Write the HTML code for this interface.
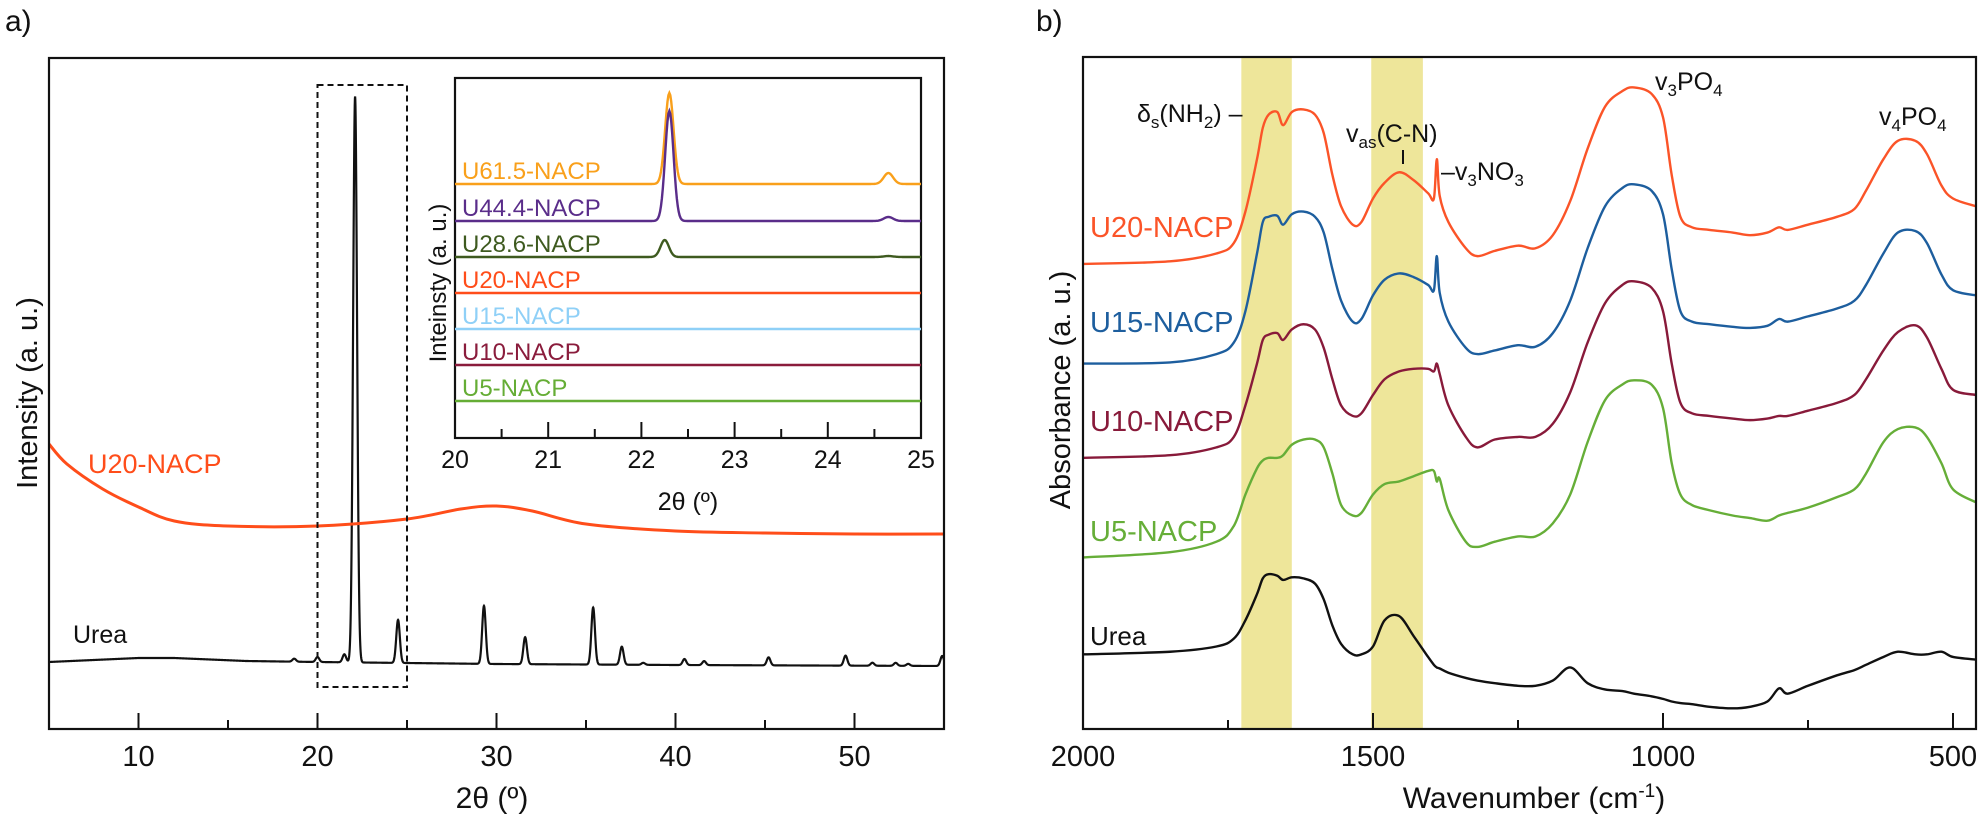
<!DOCTYPE html>
<html><head><meta charset="utf-8">
<style>
html,body{margin:0;padding:0;background:#fff;}
svg{display:block;font-family:"Liberation Sans",Arial,sans-serif;}
</style></head>
<body>
<svg id="fig" width="1981" height="821" viewBox="0 0 1981 821" xmlns="http://www.w3.org/2000/svg">
<g id="pa"></g>
<g id="pb"></g>
</svg>
<script>
// ---------- Panel a data ----------
const xrdUreaPeakPos = [18.7, 20.0, 21.5, 22.1, 24.5, 29.3, 31.6, 35.4, 37.0, 38.2, 40.5, 41.6, 45.2, 49.5, 51.0, 52.3, 53.0, 54.9];
const xrdUreaPeakHeight = [3, 5, 8, 566, 43, 58, 27, 57, 18, 2, 6, 4, 8, 10, 3, 3, 2, 10];
const xrdUreaBgPos = [5, 10, 12, 16, 20, 30, 40, 55];
const xrdUreaBg = [67, 71, 71, 68, 67, 65, 64, 63];
const xrdU20Pos = [5, 6, 8, 10, 12, 15, 20, 25, 28, 30, 32, 35, 40, 45, 50, 55];
const xrdU20 = [285, 265, 240, 222, 208, 203, 203, 210, 220, 223, 218, 205, 198, 196, 195, 195];
const xTicksA = [10, 20, 30, 40, 50];
// inset
const insetNames = ["U61.5-NACP","U44.4-NACP","U28.6-NACP","U20-NACP","U15-NACP","U10-NACP","U5-NACP"];
const insetBase = [254, 217, 181, 145, 109, 73, 37];
const insetPeak1Pos = [22.3, 22.3, 22.25, 22.3, 22.3, 22.3, 22.3];
const insetPeak1H = [91, 110, 17, 0, 0, 0, 0];
const insetPeak2H = [11, 4, 1, 0, 0, 0, 0];
const insetTicks = [20, 21, 22, 23, 24, 25];

// ---------- Panel b data ----------
const wn = [2000,1850,1770,1740,1720,1700,1690,1680,1665,1655,1640,1620,1600,1585,1570,1555,1535,1520,1500,1480,1455,1430,1405,1395,1390,1385,1370,1340,1320,1290,1250,1220,1190,1160,1130,1100,1070,1050,1020,1000,985,970,950,920,880,850,820,800,785,750,700,670,650,620,595,565,545,520,500,460];
// values: vertical position units (offset spectra, larger = lower on plot)
const absU20 = [500,495,480,460,400,300,240,215,210,235,210,205,215,250,330,390,425,420,375,345,325,340,365,375,300,370,420,470,485,475,465,470,445,380,280,200,170,163,175,220,330,410,430,435,440,445,440,430,435,425,410,395,360,300,265,265,290,350,375,390];
const absU15 = [690,688,672,650,590,480,420,410,408,425,405,400,410,440,510,570,610,605,560,530,518,525,540,550,485,555,610,660,672,665,655,658,632,570,470,390,355,348,360,405,510,590,610,615,620,622,618,605,610,600,585,570,540,480,440,437,460,520,550,560];
const absU10 = [870,865,850,830,770,690,645,635,632,645,625,615,625,660,720,770,790,785,750,720,705,700,700,705,690,710,770,830,850,835,830,830,805,745,650,575,540,533,545,590,690,765,785,790,795,798,795,790,790,780,765,750,720,665,630,617,640,700,740,750];
const absU5 = [1060,1050,1030,1000,940,890,875,870,870,865,845,835,835,850,900,960,980,975,940,920,915,905,895,895,915,910,970,1030,1040,1030,1020,1020,995,940,840,760,730,722,730,775,880,940,960,970,980,985,990,980,975,965,945,930,900,840,815,812,830,880,930,955];
const absUrea = [1245,1240,1230,1215,1180,1130,1100,1092,1095,1103,1098,1100,1110,1140,1190,1225,1245,1245,1230,1180,1172,1210,1250,1265,1270,1272,1280,1290,1295,1300,1305,1305,1295,1270,1300,1312,1315,1320,1325,1330,1335,1338,1340,1345,1348,1345,1335,1310,1320,1305,1285,1275,1265,1250,1240,1245,1245,1240,1250,1255];
const xTicksB = [2000, 1500, 1000, 500];
const bandRanges = [[1727,1640],[1503,1414]];

const NS = "http://www.w3.org/2000/svg";
function mk(parent, tag, attrs){const e=document.createElementNS(NS,tag);for(const k in attrs)e.setAttribute(k,attrs[k]);parent.appendChild(e);return e;}
function smoothPath(pts){
  let s='M'+pts[0][0].toFixed(2)+' '+pts[0][1].toFixed(2);
  for(let i=0;i<pts.length-1;i++){
    const p0=pts[Math.max(0,i-1)],p1=pts[i],p2=pts[i+1],p3=pts[Math.min(pts.length-1,i+2)];
    const c1x=p1[0]+(p2[0]-p0[0])/6,c1y=p1[1]+(p2[1]-p0[1])/6;
    const c2x=p2[0]-(p3[0]-p1[0])/6,c2y=p2[1]-(p3[1]-p1[1])/6;
    s+='C'+c1x.toFixed(2)+' '+c1y.toFixed(2)+' '+c2x.toFixed(2)+' '+c2y.toFixed(2)+' '+p2[0].toFixed(2)+' '+p2[1].toFixed(2);
  }
  return s;
}

// ===== Panel a =====
const pa = document.getElementById('pa');
const A = {l:49, r:944, t:58, b:729};
const xA = v => A.l + (v-5)/(55-5)*(A.r-A.l);
const yA = v => A.b - v;
function interp(xs, ys, x){ if(x<=xs[0])return ys[0]; for(let i=1;i<xs.length;i++){ if(x<=xs[i]){const f=(x-xs[i-1])/(xs[i]-xs[i-1]);return ys[i-1]+f*(ys[i]-ys[i-1]);} } return ys[ys.length-1]; }
function gauss(x,p,s){return Math.exp(-0.5*((x-p)/s)**2);}
let t = mk(pa,'text',{x:5,y:31,'font-size':30,fill:'#111'}); t.textContent='a)';
 
let d=''; for(let x=5;x<=55.0001;x+=0.01){ let I=interp(xrdUreaBgPos,xrdUreaBg,x); for(let i=0;i<xrdUreaPeakPos.length;i++){const s=i===3?0.11:0.1; I+=xrdUreaPeakHeight[i]*gauss(x,xrdUreaPeakPos[i],s);} d+=(d?'L':'M')+xA(x).toFixed(2)+' '+yA(I).toFixed(2);}
let p = mk(pa,'path',{d:d,fill:'none',stroke:'#111','stroke-width':2.2});
 
const u20pts = xrdU20Pos.map((x,i)=>[xA(x), yA(xrdU20[i])]);
p = mk(pa,'path',{d:smoothPath(u20pts),fill:'none',stroke:'#ff4d1a','stroke-width':3});
 
t = mk(pa,'text',{x:88,y:473,'font-size':27,fill:'#ff4d1a'}); t.textContent='U20-NACP';
 
t = mk(pa,'text',{x:73,y:643,'font-size':25,fill:'#111'}); t.textContent='Urea';
 
let r = mk(pa,'rect',{x:xA(20),y:85,width:xA(25)-xA(20),height:602,fill:'none',stroke:'#111','stroke-width':2,'stroke-dasharray':'6 4'});
 
r = mk(pa,'rect',{x:A.l,y:A.t,width:A.r-A.l,height:A.b-A.t,fill:'none',stroke:'#111','stroke-width':2.2});
 
for(let v=10; v<=55; v+=5){ const maj = xTicksA.includes(v); let l=mk(pa,'line',{x1:xA(v),x2:xA(v),y1:A.b,y2:A.b-(maj?16:9),stroke:'#111','stroke-width':2});
    }
xTicksA.forEach(v=>{ t=mk(pa,'text',{x:xA(v),y:766,'font-size':29,'text-anchor':'middle',fill:'#111'}); t.textContent=v;
    });
t = mk(pa,'text',{x:492,y:808,'font-size':30,'text-anchor':'middle',fill:'#111'}); t.textContent='2θ (º)';
 
t = mk(pa,'text',{x:0,y:0,'font-size':29,'text-anchor':'middle',fill:'#111',transform:'translate(37,393) rotate(-90)'}); t.textContent='Intensity (a. u.)';
 
// inset
const I = {l:455, r:921, t:78, b:438};
const xI = v => I.l + (v-20)/5*(I.r-I.l);
const yI = v => I.b - v;
r = mk(pa,'rect',{x:I.l,y:I.t,width:I.r-I.l,height:I.b-I.t,fill:'#fff',stroke:'#111','stroke-width':2.2});
 
const insetColors = ['#f9a01b','#5a2d8a','#3e5a1f','#ff4d1a','#8fd0f7','#8a1c3c','#65ad35'];
insetNames.forEach((nm,i)=>{
  let dd=''; for(let x=20;x<=25.0001;x+=0.01){ const v=insetBase[i]+insetPeak1H[i]*gauss(x,insetPeak1Pos[i],0.045)+insetPeak2H[i]*gauss(x,24.65,0.05); dd+=(dd?'L':'M')+xI(x).toFixed(2)+' '+yI(v).toFixed(2);}
  let pp=mk(pa,'path',{d:dd,fill:'none',stroke:insetColors[i],'stroke-width':2.4});
   
  let tt=mk(pa,'text',{x:462,y:yI(insetBase[i])-5,'font-size':24,fill:insetColors[i]}); tt.textContent=nm;
   
});
for(let v=20.5; v<25; v+=0.5){ const maj=Math.abs(v-Math.round(v))<0.01; let l=mk(pa,'line',{x1:xI(v),x2:xI(v),y1:I.b,y2:I.b-(maj?16:9),stroke:'#111','stroke-width':2});
    }
insetTicks.forEach(v=>{ t=mk(pa,'text',{x:xI(v),y:468,'font-size':25,'text-anchor':'middle',fill:'#111'}); t.textContent=v;
    });
t = mk(pa,'text',{x:688,y:510,'font-size':25,'text-anchor':'middle',fill:'#111'}); t.textContent='2θ (º)';
 
t = mk(pa,'text',{x:0,y:0,'font-size':24,'text-anchor':'middle',fill:'#111',transform:'translate(446,283) rotate(-90)'}); t.textContent='Inteinsty (a. u.)';
 

// ===== Panel b =====
const pb = document.getElementById('pb');
const B = {l:1083, r:1976, t:57, b:729};
const xB = v => B.l + (2000-v)*0.58;
const yB = v => B.t + (v-105)*0.524;
t = mk(pb,'text',{x:1036,y:31,'font-size':30,fill:'#111'}); t.textContent='b)';
 
bandRanges.forEach(([a,b])=>{ let rr=mk(pb,'rect',{x:xB(a),y:B.t,width:xB(b)-xB(a),height:B.b-B.t,fill:'#ece38f','fill-opacity':0.9});
    });
const clip = mk(pb,'clipPath',{id:'clipB'}); mk(clip,'rect',{x:B.l,y:B.t,width:B.r-B.l,height:B.b-B.t});
const series = [['U20-NACP',absU20,'#fb5428',227],['U15-NACP',absU15,'#1d5e9e',322],['U10-NACP',absU10,'#881a3a',421],['U5-NACP',absU5,'#66ae38',531],['Urea',absUrea,'#111',635]];
series.forEach(([nm,vals,col,ly])=>{
  const pts = wn.map((w,i)=>[xB(w), yB(vals[i])]);
  let pp=mk(pb,'path',{d:smoothPath(pts),fill:'none',stroke:col,'stroke-width':2.4,'stroke-linejoin':'round','clip-path':'url(#clipB)'});
   
  let tt=mk(pb,'text',{x:1090,y:ly+10,'font-size':nm==='Urea'?26:29,fill:col}); tt.textContent=nm;
   
});
r = mk(pb,'rect',{x:B.l,y:B.t,width:B.r-B.l,height:B.b-B.t,fill:'none',stroke:'#111','stroke-width':2.2});
 
for(let v=1750; v>=500; v-=250){ const maj = xTicksB.includes(v); let l=mk(pb,'line',{x1:xB(v),x2:xB(v),y1:B.b,y2:B.b-(maj?16:9),stroke:'#111','stroke-width':2});
    }
xTicksB.forEach(v=>{ t=mk(pb,'text',{x:xB(v),y:766,'font-size':29,'text-anchor':'middle',fill:'#111'}); t.textContent=v;
    });
t = mk(pb,'text',{x:1534,y:808,'font-size':30,'text-anchor':'middle',fill:'#111'}); t.innerHTML='Wavenumber (cm<tspan dy="-11" font-size="19">-1</tspan><tspan dy="11">)</tspan>';
 
t = mk(pb,'text',{x:0,y:0,'font-size':29,'text-anchor':'middle',fill:'#111',transform:'translate(1070,390) rotate(-90)'}); t.textContent='Absorbance (a. u.)';
 
t = mk(pb,'text',{x:1137,y:122,'font-size':25,fill:'#111'}); t.innerHTML='δ<tspan dy="6" font-size="17">s</tspan><tspan dy="-6">(NH</tspan><tspan dy="6" font-size="17">2</tspan><tspan dy="-6">) –</tspan>';
 
t = mk(pb,'text',{x:1346,y:142,'font-size':25,fill:'#111'}); t.innerHTML='v<tspan dy="6" font-size="17">as</tspan><tspan dy="-6">(C-N)</tspan>';
 
let l = mk(pb,'line',{x1:1403,x2:1403,y1:150,y2:164,stroke:'#111','stroke-width':2});
 
t = mk(pb,'text',{x:1441,y:180,'font-size':25,fill:'#111'}); t.innerHTML='–v<tspan dy="6" font-size="17">3</tspan><tspan dy="-6">NO</tspan><tspan dy="6" font-size="17">3</tspan>';
 
t = mk(pb,'text',{x:1655,y:90,'font-size':25,fill:'#111'}); t.innerHTML='v<tspan dy="6" font-size="17">3</tspan><tspan dy="-6">PO</tspan><tspan dy="6" font-size="17">4</tspan>';
 
t = mk(pb,'text',{x:1879,y:125,'font-size':25,fill:'#111'}); t.innerHTML='v<tspan dy="6" font-size="17">4</tspan><tspan dy="-6">PO</tspan><tspan dy="6" font-size="17">4</tspan>';
 
</script>
</body></html>
